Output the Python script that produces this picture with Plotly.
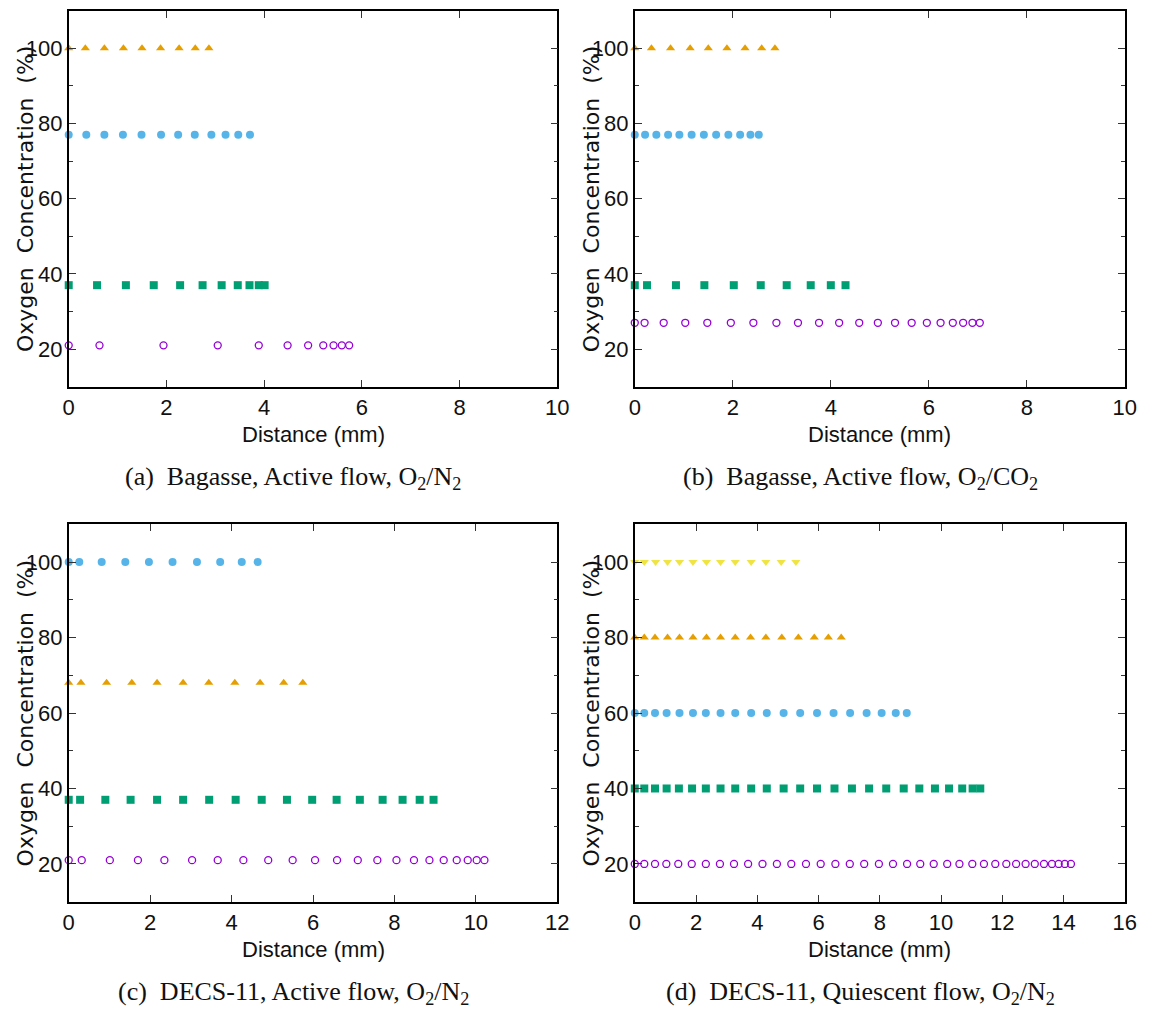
import plotly.graph_objects as go

# ---------------- data ----------------
# (a) Bagasse, Active flow, O2/N2
a_orange_x = [0, 0.34, 0.73, 1.12, 1.50, 1.88, 2.26, 2.59, 2.87]
a_orange_y = [100] * 9
a_blue_x = [0, 0.36, 0.73, 1.11, 1.49, 1.89, 2.24, 2.58, 2.92, 3.21, 3.47, 3.71]
a_blue_y = [77] * 12
a_green_x = [0, 0.58, 1.17, 1.74, 2.28, 2.74, 3.13, 3.46, 3.70, 3.89, 4.01]
a_green_y = [37] * 11
a_purple_x = [0, 0.63, 1.94, 3.05, 3.89, 4.48, 4.90, 5.21, 5.42, 5.59, 5.74]
a_purple_y = [21] * 11

# (b) Bagasse, Active flow, O2/CO2
b_orange_x = [0, 0.34, 0.73, 1.13, 1.50, 1.88, 2.25, 2.59, 2.86]
b_orange_y = [100] * 9
b_blue_x = [0, 0.21, 0.44, 0.68, 0.91, 1.16, 1.41, 1.66, 1.91, 2.15, 2.36, 2.53]
b_blue_y = [77] * 12
b_green_x = [0, 0.25, 0.84, 1.42, 2.02, 2.57, 3.10, 3.59, 4.00, 4.30]
b_green_y = [37] * 10
b_purple_x = [0, 0.20, 0.59, 1.03, 1.48, 1.96, 2.42, 2.89, 3.33, 3.76, 4.17,
              4.58, 4.96, 5.31, 5.65, 5.96, 6.24, 6.49, 6.70, 6.89, 7.04]
b_purple_y = [27] * 21

# (c) DECS-11, Active flow, O2/N2
c_blue_x = [0, 0.26, 0.81, 1.39, 1.97, 2.55, 3.15, 3.72, 4.25, 4.64]
c_blue_y = [100] * 10
c_orange_x = [0, 0.30, 0.93, 1.55, 2.17, 2.81, 3.44, 4.08, 4.70, 5.28, 5.75]
c_orange_y = [68] * 11
c_green_x = [0, 0.28, 0.90, 1.52, 2.17, 2.81, 3.45, 4.10, 4.74, 5.36, 5.98,
             6.58, 7.15, 7.71, 8.20, 8.62, 8.96]
c_green_y = [37] * 17
c_purple_x = [0, 0.32, 1.01, 1.70, 2.35, 3.03, 3.66, 4.29, 4.90, 5.50, 6.05,
              6.59, 7.10, 7.58, 8.05, 8.48, 8.86, 9.21, 9.53, 9.80, 10.02, 10.21]
c_purple_y = [21] * 22

# (d) DECS-11, Quiescent flow, O2/N2
d_yellow_x = [0, 0.31, 0.68, 1.07, 1.46, 1.90, 2.34, 2.80, 3.28, 3.80, 4.28, 4.78, 5.26]
d_yellow_y = [100] * 13
d_orange_x = [0, 0.31, 0.66, 1.07, 1.46, 1.90, 2.34, 2.80, 3.28, 3.78, 4.28, 4.80,
              5.34, 5.86, 6.32, 6.74]
d_orange_y = [80] * 16
d_blue_x = [0, 0.31, 0.66, 1.04, 1.46, 1.90, 2.32, 2.80, 3.28, 3.80, 4.31, 4.86,
            5.40, 5.95, 6.49, 7.03, 7.57, 8.06, 8.52, 8.88]
d_blue_y = [60] * 20
d_green_x = [0, 0.31, 0.66, 1.04, 1.44, 1.87, 2.32, 2.80, 3.28, 3.80, 4.31, 4.86,
             5.40, 5.95, 6.52, 7.09, 7.65, 8.21, 8.78, 9.29, 9.80, 10.26, 10.69,
             11.03, 11.28]
d_green_y = [40] * 25
d_purple_x = [0, 0.31, 0.66, 1.03, 1.42, 1.86, 2.32, 2.78, 3.24, 3.70, 4.17, 4.64,
              5.11, 5.59, 6.07, 6.55, 7.02, 7.49, 7.97, 8.43, 8.89, 9.32, 9.76,
              10.20, 10.60, 11.02, 11.40, 11.77, 12.13, 12.45, 12.76, 13.06,
              13.36, 13.62, 13.84, 14.04, 14.24]
d_purple_y = [20] * 37

x_ranges = {"a": [0, 10], "b": [0, 10], "c": [0, 12], "d": [0, 16]}
y_range = [10, 110]
y_ticks = [20, 40, 60, 80, 100]
y_minor_ticks = [30, 50, 70, 90]

captions = {
    "a": "(a)&nbsp;&nbsp;Bagasse, Active flow, O<sub>2</sub>/N<sub>2</sub>",
    "b": "(b)&nbsp;&nbsp;Bagasse, Active flow, O<sub>2</sub>/CO<sub>2</sub>",
    "c": "(c)&nbsp;&nbsp;DECS-11, Active flow, O<sub>2</sub>/N<sub>2</sub>",
    "d": "(d)&nbsp;&nbsp;DECS-11, Quiescent flow, O<sub>2</sub>/N<sub>2</sub>",
}
x_title = "Distance (mm)"
y_title = "Oxygen&nbsp; Concentration&nbsp; (%)"

# ---------------- styles ----------------
W, H = 1159, 1009
PURPLE = "#9400D3"
GREEN = "#009E73"
BLUE = "#56B4E9"
ORANGE = "#E69F00"
YELLOW = "#F0E442"

STY = {
    "purple": dict(symbol="circle-open", size=7, color=PURPLE, line=dict(width=1.3, color=PURPLE)),
    "green": dict(symbol="square", size=8, color=GREEN),
    "blue": dict(symbol="circle", size=8, color=BLUE),
    "orange": dict(symbol="triangle-up", size=8, color=ORANGE),
    "yellow": dict(symbol="triangle-down", size=8, color=YELLOW),
}

# pixel boxes of plot areas: (left, right, top, bottom)
boxes = {
    "a": (63.7, 560.0, 10.7, 386.7),
    "b": (638.7, 1136.5, 10.7, 386.7),
    "c": (63.7, 560.0, 524.3, 901.7),
    "d": (638.7, 1136.5, 524.3, 901.7),
}
axis_ids = {"a": ("x", "y"), "b": ("x2", "y2"), "c": ("x3", "y3"), "d": ("x4", "y4")}

series = {
    "a": [("orange", a_orange_x, a_orange_y), ("blue", a_blue_x, a_blue_y),
          ("green", a_green_x, a_green_y), ("purple", a_purple_x, a_purple_y)],
    "b": [("orange", b_orange_x, b_orange_y), ("blue", b_blue_x, b_blue_y),
          ("green", b_green_x, b_green_y), ("purple", b_purple_x, b_purple_y)],
    "c": [("blue", c_blue_x, c_blue_y), ("orange", c_orange_x, c_orange_y),
          ("green", c_green_x, c_green_y), ("purple", c_purple_x, c_purple_y)],
    "d": [("yellow", d_yellow_x, d_yellow_y), ("orange", d_orange_x, d_orange_y),
          ("blue", d_blue_x, d_blue_y), ("green", d_green_x, d_green_y),
          ("purple", d_purple_x, d_purple_y)],
}

TICKFONT = dict(family="Liberation Sans Narrow, Liberation Sans, Arial, sans-serif",
                size=22, color="#111")
TITLEFONT_X = dict(family="Liberation Sans Narrow, Liberation Sans, sans-serif", size=22, color="#111")
TITLEFONT_Y = dict(family="DejaVu Sans, Verdana, sans-serif", size=22, color="#111")
CAPFONT = dict(family="Liberation Serif, Times New Roman, serif", size=26, color="#111")

fig = go.Figure()
layout = dict(width=W, height=H, margin=dict(l=0, r=0, t=0, b=0),
              paper_bgcolor="white", plot_bgcolor="white", showlegend=False)
annotations = []

for key in ["a", "b", "c", "d"]:
    xa, ya = axis_ids[key]
    for name, xs, ys in series[key]:
        fig.add_trace(go.Scatter(x=xs, y=ys, mode="markers", marker=STY[name],
                                 xaxis=xa, yaxis=ya, cliponaxis=False, hoverinfo="skip"))
    l, r, t, b = boxes[key]
    xname = "xaxis" + xa[1:]
    yname = "yaxis" + ya[1:]
    common = dict(showline=True, linecolor="black", linewidth=1.6, mirror="allticks",
                  ticks="inside", ticklen=7, tickwidth=1.3, tickcolor="#333",
                  showgrid=False, zeroline=False, tickfont=TICKFONT)
    layout[xname] = dict(domain=[l / W, r / W], range=x_ranges[key], anchor=ya,
                         dtick=2, tick0=0, **common)
    layout[yname] = dict(domain=[1 - b / H, 1 - t / H], range=y_range, anchor=xa,
                         tickvals=y_ticks,
                         minor=dict(tickvals=y_minor_ticks, ticks="inside", ticklen=4,
                                    tickwidth=1.2, tickcolor="#333"),
                         **common)
    cx = (l + r) / 2
    cy = (t + b) / 2
    annotations.append(dict(text=x_title, x=cx / W, y=1 - (b + 48) / H, xref="paper", yref="paper",
                            showarrow=False, font=TITLEFONT_X, xanchor="center", yanchor="middle"))
    annotations.append(dict(text=y_title, x=(l - 44) / W, y=1 - cy / H, xref="paper", yref="paper",
                            showarrow=False, font=TITLEFONT_Y, textangle=-90,
                            xanchor="center", yanchor="middle"))
    annotations.append(dict(text=captions[key], x=(cx - 20) / W, y=1 - (b + 91) / H,
                            xref="paper", yref="paper", showarrow=False, font=CAPFONT,
                            xanchor="center", yanchor="middle"))

layout["annotations"] = annotations
fig.update_layout(**layout)
fig.write_html("out.html")
